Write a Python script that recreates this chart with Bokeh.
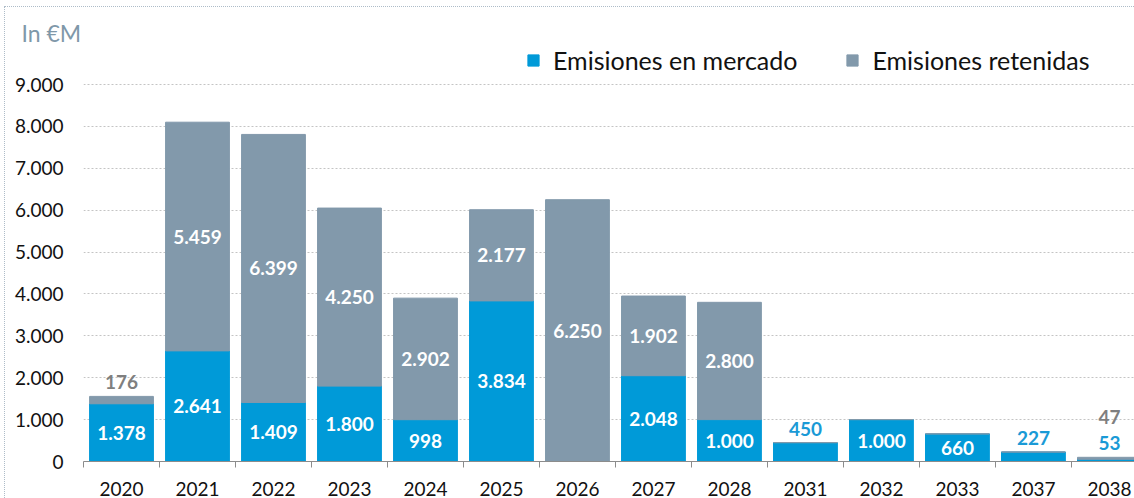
from bokeh.plotting import figure
from bokeh.models import ColumnDataSource, FixedTicker, Legend, LegendItem, InlineStyleSheet
from bokeh.embed import file_html
from bokeh.resources import INLINE
from bokeh.core.properties import value

# ---- data ----
years = ["2020", "2021", "2022", "2023", "2024", "2025", "2026",
         "2027", "2028", "2031", "2032", "2033", "2037", "2038"]
mercado = [1378, 2641, 1409, 1800, 998, 3834, 0, 2048, 1000, 450, 1000, 660, 227, 53]
retenidas = [176, 5459, 6399, 4250, 2902, 2177, 6250, 1902, 2800, 0, 0, 0, 0, 47]
series_names = ["Emisiones en mercado", "Emisiones retenidas"]
y_ticks = [0, 1000, 2000, 3000, 4000, 5000, 6000, 7000, 8000, 9000]
unit_label = "In €M"

# ---- styles ----
BLUE = "#009ad8"
GRAY = "#8299ab"
BLUE_TXT = "#1a9ad6"
GRAY_TXT = "#7f7f7f"
FONT = "Lato"


def fmt(v):
    return f"{v:,}".replace(",", ".")


n = len(years)
xs = list(range(n))
src = ColumnDataSource(dict(x=xs, mercado=mercado, retenidas=retenidas))

# labels
lx, ly, lt, lc, loff = [], [], [], [], []
for i, (m, r) in enumerate(zip(mercado, retenidas)):
    total = m + r
    k = 0
    for val, base, col in ((m, 0, BLUE_TXT), (r, m, GRAY_TXT)):
        if val <= 0:
            continue
        lx.append(i)
        lt.append(fmt(val))
        if val >= 500:
            ly.append(base + val / 2)
            lc.append("white")
            loff.append(0)
        else:
            ly.append(total)
            lc.append(col)
            loff.append(-(14 + 26 * k))
            k += 1
lsrc = ColumnDataSource(dict(x=lx, y=ly, t=lt, c=lc, off=loff))

p = figure(width=1134, height=498, x_range=(-0.5, 13.33), y_range=(0, 9907.2),
           output_backend="svg", toolbar_location=None,
           min_border_left=83, min_border_right=0, min_border_top=46, min_border_bottom=37)
p.outline_line_color = None
p.background_fill_color = "white"
p.border_fill_color = "white"
p.stylesheets = [InlineStyleSheet(css=":host::after { content: ''; position: absolute; left: 4px; top: 6px; "
                                      "width: 3000px; height: 3000px; border: 1px dotted #aebcc8; "
                                      "pointer-events: none; }")]

# unit title
p.title.text = unit_label
p.title.align = "left"
p.title.offset = -62
p.title.standoff = 0
p.title.text_font = FONT
p.title.text_font_size = "23px"
p.title.text_font_style = "normal"
p.title.text_color = "#7f98a9"

renderers = p.vbar_stack(["mercado", "retenidas"], x="x", width=0.84,
                         color=[BLUE, GRAY], source=src)

p.text(x="x", y="y", text="t", text_color="c", y_offset="off", source=lsrc,
       text_align="center", text_baseline="middle",
       text_font=value(FONT), text_font_size="19px", text_font_style="bold")

# grid
p.xgrid.visible = False
p.ygrid.ticker = FixedTicker(ticks=y_ticks)
p.ygrid.grid_line_color = "#c4c4c4"
p.ygrid.grid_line_dash = "2 2"
p.ygrid.grid_line_width = 1

# x axis
p.xaxis.ticker = FixedTicker(ticks=xs, minor_ticks=[i - 0.5 for i in range(n + 1)])
p.xaxis.major_label_overrides = {i: y for i, y in enumerate(years)}
p.xaxis.major_tick_line_color = None
p.xaxis.major_tick_out = 0
p.xaxis.minor_tick_line_color = "#8c8c8c"
p.xaxis.minor_tick_out = 6
p.xaxis.minor_tick_in = 0
p.xaxis.axis_line_color = "#8c8c8c"
p.xaxis.major_label_standoff = 14
p.xaxis.major_label_text_font = FONT
p.xaxis.major_label_text_font_size = "19px"
p.xaxis.major_label_text_color = "#111111"

# y axis
p.yaxis.ticker = FixedTicker(ticks=y_ticks)
p.yaxis.major_label_overrides = {t: fmt(t) for t in y_ticks}
p.yaxis.axis_line_color = None
p.yaxis.major_tick_line_color = None
p.yaxis.minor_tick_line_color = None
p.yaxis.major_tick_out = 0
p.yaxis.major_label_standoff = 20
p.yaxis.major_label_text_font = FONT
p.yaxis.major_label_text_font_size = "19px"
p.yaxis.major_label_text_color = "#111111"

# legend
legend = Legend(items=[LegendItem(label=series_names[0], renderers=[renderers[0]]),
                       LegendItem(label=series_names[1], renderers=[renderers[1]])],
                location=(443, 386), orientation="horizontal",
                label_text_font=FONT, label_text_font_size="25px", label_text_color="#111111",
                glyph_width=14, glyph_height=14, label_standoff=13, spacing=48,
                padding=0, margin=0, border_line_color=None, background_fill_alpha=0)
p.add_layout(legend)

open("out.html", "w").write(file_html(p, INLINE))
